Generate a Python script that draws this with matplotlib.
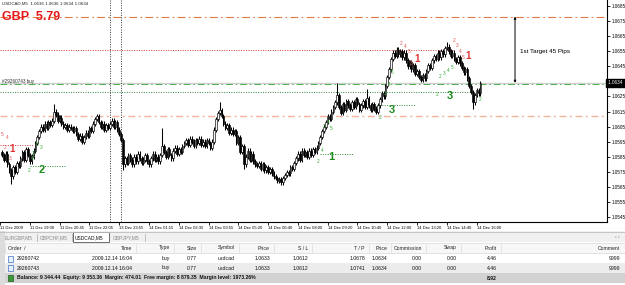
import numpy as np
import matplotlib.pyplot as plt
import matplotlib.transforms as mtransforms
from matplotlib.patches import Rectangle

plt.rcParams['font.family'] = ['Liberation Sans', 'DejaVu Sans']

# ---- USDCAD M5 closes, in points (589 -> 1.0589) ----
close_pts = [
    586, 583, 587, 580, 576, 572, 578, 575, 581, 579,
    584, 588, 583, 590, 586, 582, 585, 589, 594, 598, 602,
    605, 603, 607, 604, 608, 606, 609, 615, 613, 609, 611, 607,
    605, 606, 603, 605, 604, 602, 604, 600, 597, 599, 595, 598,
    601, 599, 604, 602, 607, 610, 612, 608, 605, 607, 603, 606, 604, 607,
    609, 605, 608, 603, 600, 596, 580,
    584, 581, 586, 583, 580, 585, 582, 587, 584, 581,
    583, 586, 582, 580, 584, 587, 583, 585, 582, 586, 592,
    588, 585, 590, 586, 584, 589, 591, 587, 590, 588, 592, 594,
    596, 593, 597, 595, 592, 596, 594, 597,
    593, 595, 592, 596, 594, 591, 595,
    603, 610, 614, 616, 612, 607, 604, 606, 601, 603, 600, 602,
    594, 598, 588, 592, 580, 585, 589, 583, 587, 582, 580,
    579, 581, 577, 580, 576, 578, 575, 577, 574, 572,
    571, 569, 570, 568, 571, 573, 575, 574, 578, 577, 581,
    584, 587, 583, 589, 586, 588, 585, 589, 586, 590, 588, 591,
    594, 598, 602, 605, 608, 612, 610, 615, 618, 621, 626,
    618, 614, 620, 616, 622, 619, 617, 621, 618, 623, 620, 616, 619, 622, 618,
    624, 619, 616, 620, 617, 615, 619, 623, 627, 625, 632, 638, 643,
    650, 654, 652, 656, 653, 655, 651, 654, 649, 645, 648,
    643, 646, 640, 642, 638, 636, 639, 637, 642, 646, 644, 649,
    652, 650, 654, 651, 655, 653, 657, 658, 655,
    652, 654, 650, 648, 651, 647, 644, 641, 643,
    637, 632, 628, 621, 626, 629, 627, 634,
]
first_open_pts = 588
spike_bars = [5, 28, 65, 86, 117, 130, 150, 180, 196, 239, 253]
spike_pts = [567, 620, 576, 604, 621, 577, 566, 634, 630, 661, 617]

# order levels
tp_price = 1.0678
sl_price = 1.0612
open_price = 1.0633
bid_price = 1.0634

# x axis labels (every 16 bars)
time_labels = ["11 Dec 2009", "11 Dec 19:00", "11 Dec 20:45", "11 Dec 22:05",
               "13 Dec 23:55", "14 Dec 01:15", "14 Dec 02:35", "14 Dec 03:55",
               "14 Dec 05:20", "14 Dec 06:40", "14 Dec 08:00", "14 Dec 09:20",
               "14 Dec 10:40", "14 Dec 12:00", "14 Dec 13:20", "14 Dec 14:40",
               "14 Dec 16:00"]
price_ticks = [1.0685, 1.0675, 1.0665, 1.0655, 1.0645, 1.0625, 1.0615, 1.0605,
               1.0595, 1.0585, 1.0575, 1.0565, 1.0555, 1.0545]

# wave count labels: text, bar, price
big_txt = ["2", "1", "3", "3", "1", "1", "1"]
big_bar = [21.6, 176.8, 209.5, 240.7, 5.4, 222.9, 250.3]
big_price = [1.0576, 1.0585, 1.0616, 1.0625, 1.0590, 1.0650, 1.0652]
big_col = ["g", "g", "g", "g", "r", "r", "r"]

small_txt = ["5", "3", "3", "4", "2", "2", "4", "3", "4", "5", "2", "3", "4", "5",
             "2", "3", "4", "5", "2", "2",
             "5", "4", "2", "3", "2", "4", "5", "3", "2", "3", "4", "5"]
small_bar = [18.9, 21.0, 16.7, 16.2, 14.6, 169.8, 172.0, 173.0, 175.2, 176.8,
             203.0, 205.8, 207.9, 209.5, 235.3, 237.5, 239.6, 241.8, 233.7, 256.8,
             0.1, 2.8, 1.7, 4.4, 214.6, 216.6, 218.6, 219.8, 242.6, 244.6, 246.3, 247.6]
small_price = [1.0593, 1.0591, 1.0587, 1.0584, 1.0576, 1.0582, 1.0589, 1.0605,
               1.0608, 1.0604, 1.0611, 1.0627, 1.0633, 1.0641, 1.0638, 1.0640,
               1.0642, 1.0644, 1.0626, 1.0623,
               1.0600, 1.0598, 1.0591, 1.0584, 1.0660, 1.0658, 1.0655, 1.0647,
               1.0662, 1.0659, 1.0655, 1.0651]
small_col = ["g"] * 20 + ["r"] * 12

# terminal table
headers = ["Order", "Time", "Type", "Size", "Symbol", "Price", "S / L", "T / P",
           "Price", "Commission", "Swap", "Profit", "Comment"]
orders = ["29260742", "29260743"]
times = ["2009.12.14 16:04", "2009.12.14 16:04"]
types = ["buy", "buy"]
sizes = ["0.77", "0.77"]
symbols = ["usdcad", "usdcad"]
open_prices = ["1.0633", "1.0633"]
stops = ["1.0612", "1.0612"]
targets = ["1.0678", "1.0741"]
cur_prices = ["1.0634", "1.0634"]
commissions = ["0.00", "0.00"]
swaps = ["0.00", "0.00"]
profits = ["4.46", "4.46"]
comments = ["9999", "9999"]
balance_text = ("Balance: 9 344.44  Equity: 9 353.36  Margin: 474.01  "
                "Free margin: 8 879.35  Margin level: 1973.26%")
total_profit = "8.92"
tabs = ["EURGBP,M5", "GBPCHF,M5", "USDCAD,M5", "GBPJPY,M5"]

W, H = 625, 285
fig = plt.figure(figsize=(W / 100, H / 100), dpi=100)
ax = fig.add_axes([0, (H - 222) / H, 607 / W, 222 / H])

closes = 1 + np.array(close_pts) / 10000
opens = np.r_[1 + first_open_pts / 10000, closes[:-1]]
highs = np.maximum(opens, closes) + 0.00015
lows = np.minimum(opens, closes) - 0.00015
for b, p in zip(spike_bars, spike_pts):
    v = 1 + p / 10000
    if v > highs[b]:
        highs[b] = v
    elif v < lows[b]:
        lows[b] = v
idx = np.arange(len(closes))

# horizontal levels
ax.axhline(bid_price, color='#d0d0d0', lw=1.0, zorder=1)
ax.axhline(tp_price, color='#e07a45', lw=0.8, ls=(0, (7, 3, 1.5, 3)), zorder=1)
ax.axhline(sl_price, color='#f2b49e', lw=1.0, ls=(0, (5, 2.5, 1.5, 2.5)), zorder=1)
ax.axhline(open_price, color='#4caf50', lw=0.7, ls=(0, (7, 3, 1.5, 3)), zorder=1)
ax.hlines(1.0656, -1, 243, color='#d83a3a', lw=0.7, ls=(0, (1, 1.5)), zorder=1)
ax.hlines(1.0628, -1, 252.5, color='#2e8b2e', lw=0.7, ls=(0, (1, 1.5)), zorder=1)
ax.hlines(1.0619, 201.5, 222, color='#2e8b2e', lw=0.7, ls=(0, (1, 1.5)), zorder=1)
ax.hlines(1.0587, 171, 188.6, color='#2e8b2e', lw=0.7, ls=(0, (1, 1.5)), zorder=1)
ax.hlines(1.0579, 15, 34, color='#2e8b2e', lw=0.7, ls=(0, (1, 1.5)), zorder=1)
ax.hlines(1.0593, -1, 16.7, color='#d83a3a', lw=0.7, ls=(0, (1, 1.5)), zorder=1)
ax.axvline(58.1, color='#333333', lw=0.7, ls=(0, (1, 1.5)), zorder=1)
ax.axvline(64.0, color='#333333', lw=0.7, ls=(0, (1, 1.5)), zorder=1)

# candles
ax.vlines(idx, lows, highs, color='black', lw=0.75, zorder=3)
up = closes >= opens
ax.bar(idx[up], (closes - opens)[up], bottom=opens[up], width=0.85,
       color='#f4f4f4', edgecolor='black', lw=0.45, zorder=4)
ax.bar(idx[~up], (closes - opens)[~up], bottom=opens[~up], width=0.85,
       color='black', edgecolor='black', lw=0.45, zorder=4)

colmap = {"g": "#1e8c1e", "r": "#e03535"}
for t, b, p, c in zip(big_txt, big_bar, big_price, big_col):
    ax.text(b, p, t, color=colmap[c], fontsize=8 if c == "g" else 7,
            fontweight='bold', ha='center', va='center', zorder=5)
smallmap = {"g": "#3aa83a", "r": "#e85050"}
for t, b, p, c in zip(small_txt, small_bar, small_price, small_col):
    ax.text(b, p, t, color=smallmap[c], fontsize=3.4, ha='center', va='center', zorder=5)

# target arrow
ax.annotate('', xy=(275.6, tp_price), xytext=(275.6, bid_price),
            arrowprops=dict(arrowstyle='<|-|>', color='black', lw=0.7,
                            mutation_scale=3, shrinkA=0, shrinkB=0))
ax.text(278.5, 1.0655, "1st Target 45 Pips", fontsize=4.5, va='center', ha='left')

ax.text(0.003, 0.995, "USDCAD,M5  1.0636 1.0636 1.0634 1.0634", transform=ax.transAxes,
        fontsize=3.2, va='top', ha='left', color='#222222')
ax.text(0.004, 1.06775, "GBP  5.79", fontsize=9, fontweight='bold', color='#e81818',
        va='center', ha='left', transform=mtransforms.blended_transform_factory(ax.transAxes, ax.transData),
        zorder=6)
ax.text(0.003, 1.06352, "#29260743 buy", fontsize=3.3, color='#333333', va='center',
        ha='left', transform=mtransforms.blended_transform_factory(ax.transAxes, ax.transData))

ax.set_xlim(-1, 325)
ax.set_ylim(1.05417, 1.06890)
ax.spines['left'].set_visible(False)
ax.spines['top'].set_visible(False)
ax.spines['right'].set_linewidth(0.8)
ax.spines['bottom'].set_linewidth(0.8)
ax.yaxis.tick_right()
ax.set_yticks(price_ticks)
ax.set_yticklabels([f"{v:.4f}" for v in price_ticks])
ax.tick_params(axis='y', length=2, width=0.6, pad=1.5, labelsize=3.3)
ax.set_xticks([-1 + 16 * k for k in range(len(time_labels))])
ax.set_xticklabels(time_labels)
ax.tick_params(axis='x', length=2, width=0.6, pad=1.2, labelsize=3.0)
for lab in ax.get_xticklabels():
    lab.set_ha('left')
ax.text(1.0, bid_price, " 1.0634 ", color='white', fontsize=3.3, va='center', ha='left',
        transform=mtransforms.blended_transform_factory(ax.transAxes, ax.transData),
        bbox=dict(boxstyle='square,pad=0.25', fc='black', ec='black'), clip_on=False)

# ---- terminal panel (pixel coordinates) ----
ax2 = fig.add_axes([0, 0, 1, (H - 231) / H])
ax2.set_xlim(0, W)
ax2.set_ylim(H, 231)
ax2.axis('off')
ax2.add_patch(Rectangle((0, 231), W, 11, fc='#f0f0f0', ec='none'))
ax2.plot([0, W], [231.5, 231.5], color='#bdbdbd', lw=0.6)
tab_x = [5, 40, 75, 113]
for i, (t, x) in enumerate(zip(tabs, tab_x)):
    if i == 2:
        ax2.add_patch(Rectangle((x - 2, 232), 36, 10, fc='white', ec='#555555', lw=0.6))
        ax2.text(x, 237.5, t, fontsize=3.5, va='center', ha='left', color='#111111')
    else:
        ax2.text(x, 237.5, t, fontsize=3.5, va='center', ha='left', color='#8a8a8a')
        ax2.plot([x + 32, x + 32], [233.5, 240.5], color='#aaaaaa', lw=0.5)
ax2.text(617, 236.5, "\u2039 \u203a", fontsize=3.5, va='center', ha='center', color='#777777')

ax2.add_patch(Rectangle((5, 243), W - 5, 10, fc='#f7f7f7', ec='#d8d8d8', lw=0.5))
ax2.add_patch(Rectangle((0, 231), 5, 54, fc='#dcdcdc', ec='none'))
right_edges = [None, 132, 170, 197, 235, 270, 308, 365, 387, 422, 457, 497, 620]
ax2.text(8, 248, "Order  /", fontsize=3.7, va='center', ha='left', color='#222222')
for h, r in zip(headers[1:], right_edges[1:]):
    ax2.text(r, 248, h, fontsize=3.7, va='center', ha='right', color='#222222')
for r in [136, 174, 201, 239, 274, 312, 369, 391, 426, 461, 501]:
    ax2.plot([r, r], [244, 252], color='#dddddd', lw=0.5)

rows = list(zip(times, types, sizes, symbols, open_prices, stops, targets, cur_prices,
                commissions, swaps, profits, comments))
row_y = [258.5, 268]
for k, (o, vals, y) in enumerate(zip(orders, rows, row_y)):
    if k == 1:
        ax2.add_patch(Rectangle((5, y - 4.7), W - 5, 9.4, fc='#ececec', ec='none'))
    ax2.add_patch(Rectangle((8, y - 3), 5, 6, fc='#e8f0ff', ec='#3a6fc0', lw=0.5))
    ax2.text(17, y, o, fontsize=3.7, va='center', ha='left', color='#111111')
    for v, r in zip(vals, right_edges[1:]):
        ax2.text(r, y, v, fontsize=3.7, va='center', ha='right', color='#111111')

ax2.add_patch(Rectangle((5, 273), W - 5, 10, fc='#d2d2d2', ec='none'))
ax2.add_patch(Rectangle((8, 275), 5, 6, fc='#3a9a3a', ec='#1d5d1d', lw=0.5))
ax2.text(17, 278, balance_text, fontsize=3.7, fontweight='bold', va='center', ha='left',
         color='#111111')
ax2.text(497, 278, total_profit, fontsize=3.7, fontweight='bold', va='center', ha='right',
         color='#111111')

fig.savefig('out.png', dpi=100)
